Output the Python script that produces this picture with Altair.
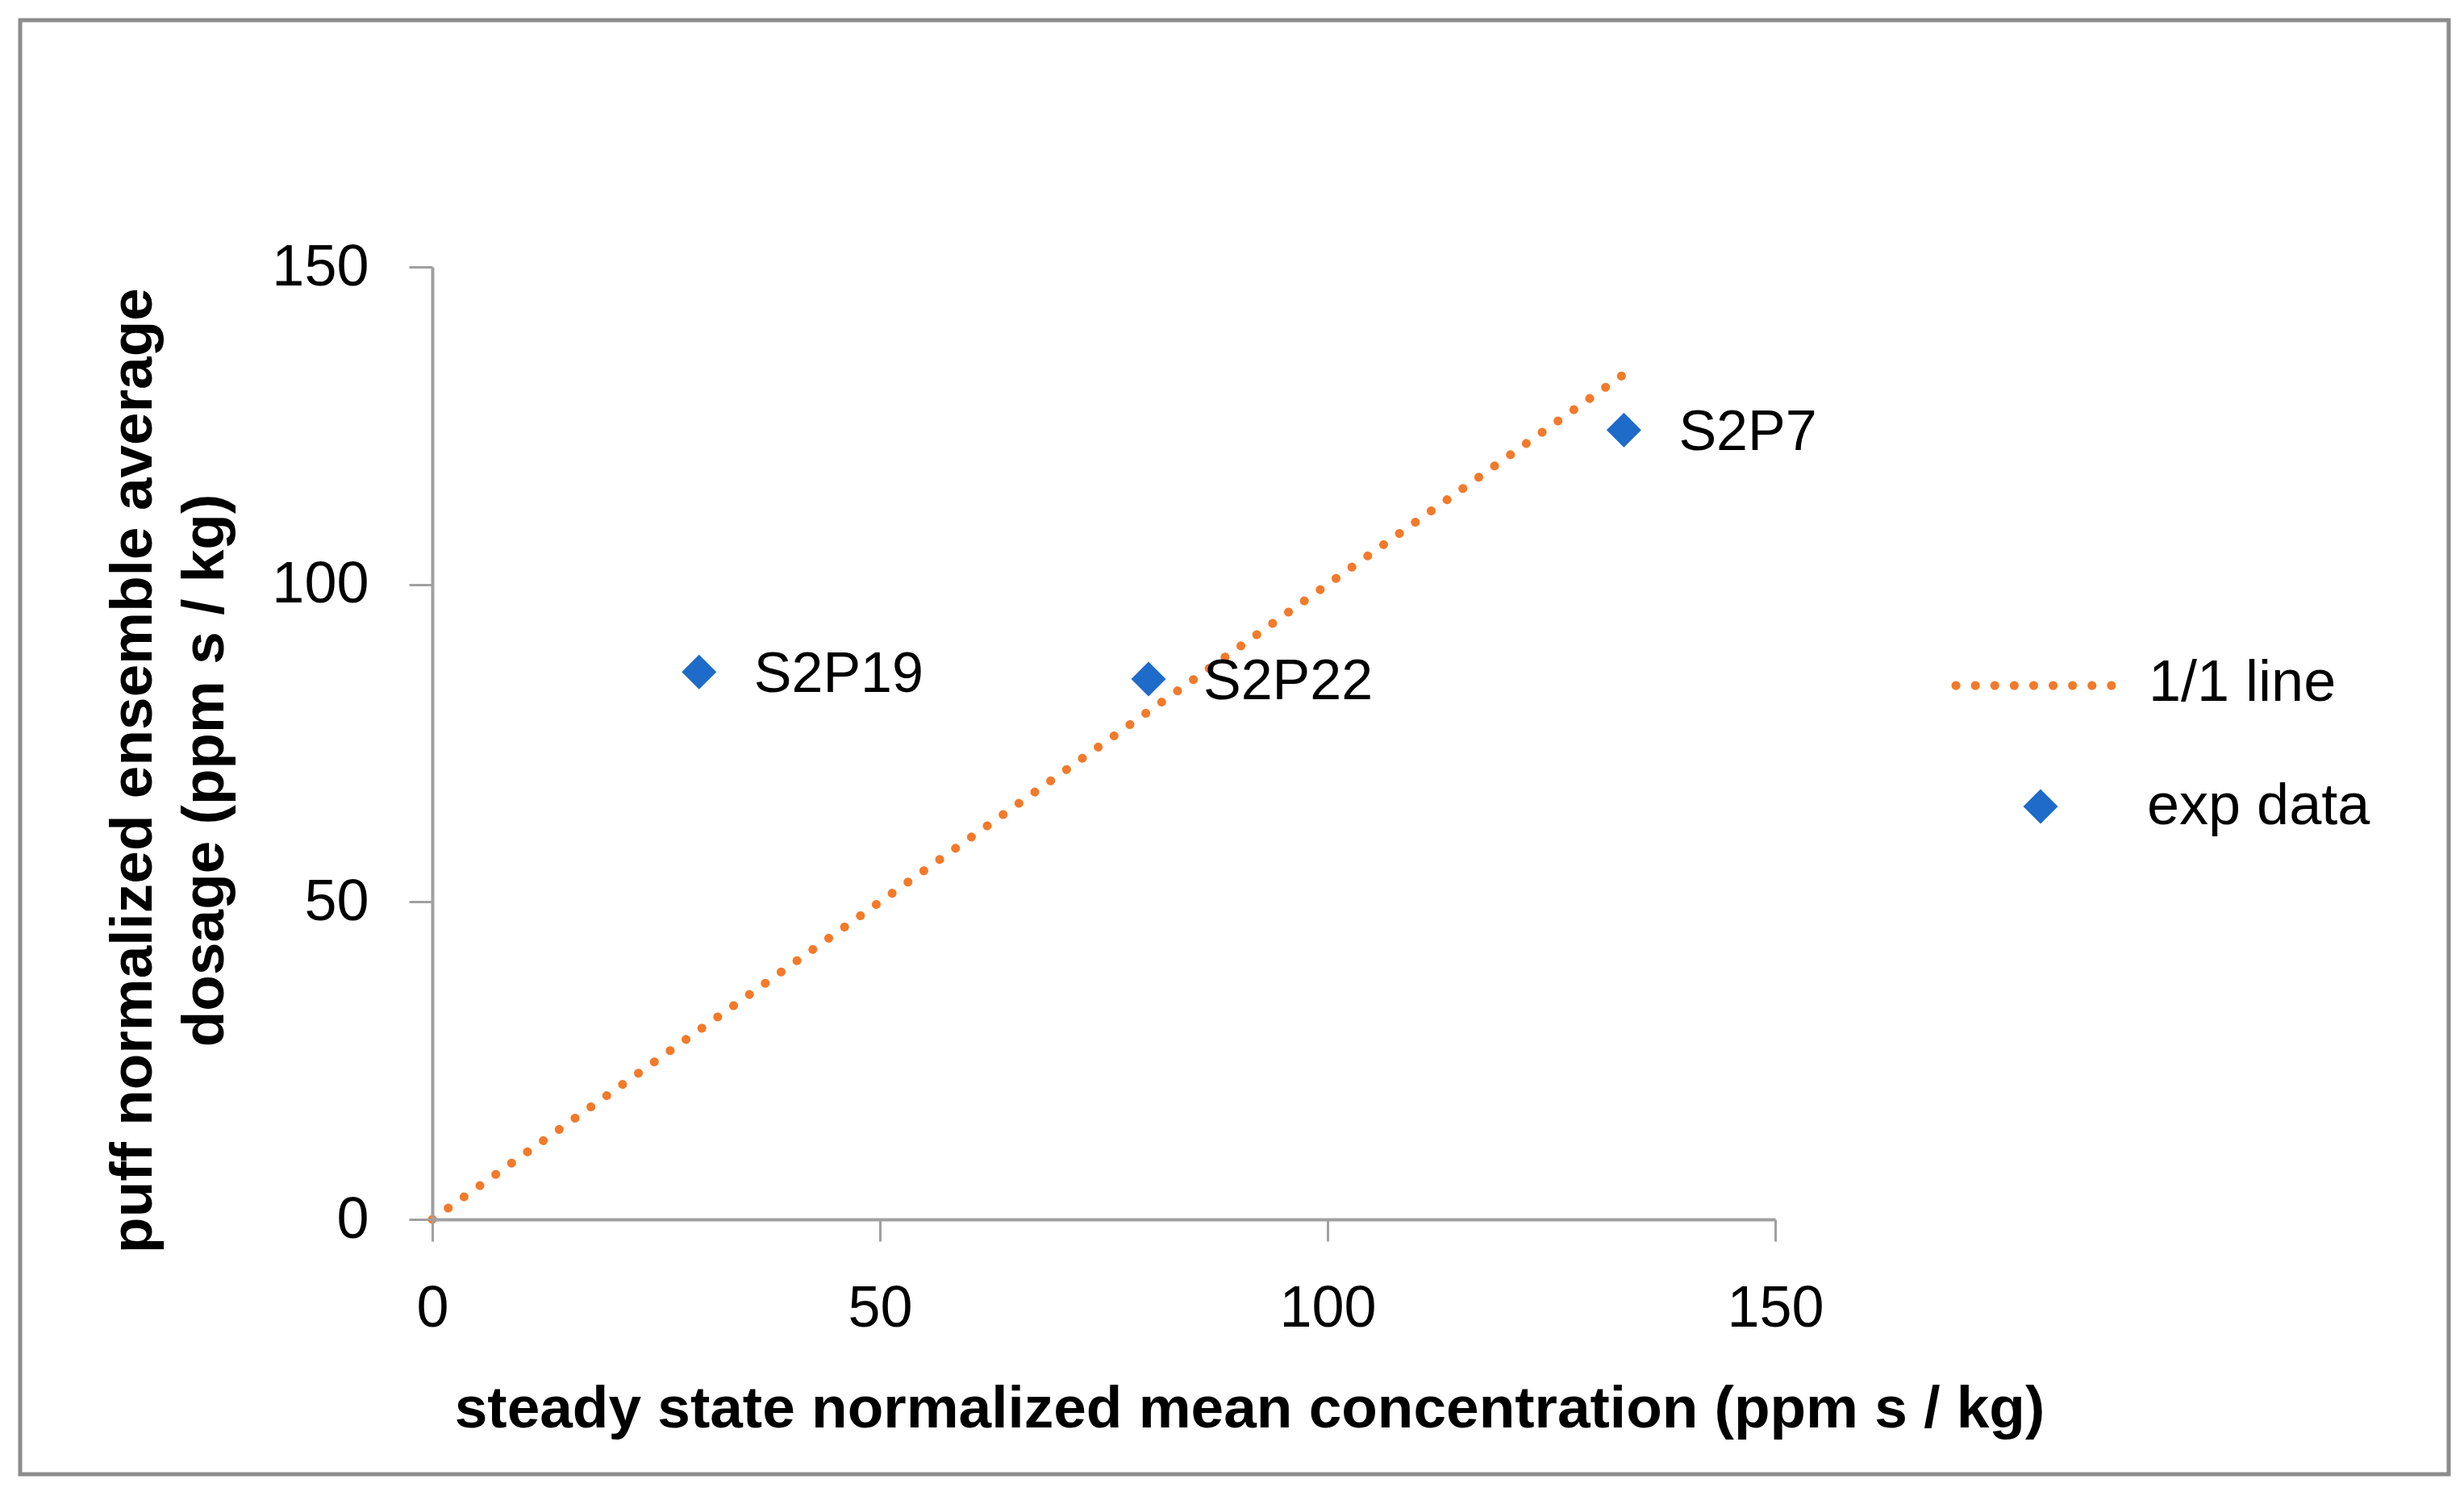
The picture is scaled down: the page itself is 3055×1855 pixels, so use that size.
import altair as alt
import pandas as pd

# ---- data ----
exp_labels = ["S2P19", "S2P22", "S2P7"]
exp_x = [29.8, 80.0, 133.1]
exp_y = [86.2, 85.1, 124.3]

line_x = [0, 133]
line_y = [0, 133]

x_ticks = [0, 50, 100, 150]
y_ticks = [0, 50, 100, 150]

legend_labels = ["1/1 line", "exp data"]

x_title = "steady state normalized mean concentration (ppm s / kg)"
y_title = ["puff normalized ensemble average", "dosage (ppm s / kg)"]

FONT = "Liberation Sans"
ORANGE = "#F27A2A"
BLUE = "#1F6BC9"
AXIS_GRAY = "#A0A0A0"

pts = pd.DataFrame({"x": exp_x, "y": exp_y, "label": exp_labels})
ln = pd.DataFrame({"x": line_x, "y": line_y})
one = pd.DataFrame({"k": [0]})

xscale = alt.Scale(domain=[0, 150], nice=False, zero=False)
yscale = alt.Scale(domain=[0, 150], nice=False, zero=False)

xaxis = alt.Axis(
    values=x_ticks, grid=False, domainColor=AXIS_GRAY, domainWidth=4,
    tickColor=AXIS_GRAY, tickWidth=3, tickSize=27, labelFont=FONT,
    labelFontSize=72, labelColor="#000000", labelPadding=48,
    labelBaseline="top", title=x_title, titleFont=FONT, titleFontSize=73,
    titleFontWeight="bold", titleColor="#000000", titleX=1013, titleY=235,
    titleBaseline="middle", titleAnchor="middle", labelFlush=False, zindex=1,
)
yaxis = alt.Axis(
    values=y_ticks, grid=False, domainColor=AXIS_GRAY, domainWidth=4,
    tickColor=AXIS_GRAY, tickWidth=3, tickSize=29, labelFont=FONT,
    labelFontSize=72, labelColor="#000000", labelPadding=50,
    labelBaseline="middle", title=y_title, titleFont=FONT, titleFontSize=73,
    titleFontWeight="bold", titleColor="#000000", titleAngle=270,
    titleX=-371, titleY=624, titleBaseline="middle", titleAlign="center",
    titleLineHeight=89, labelFlush=False, zindex=1,
)

border = alt.Chart(one).mark_rect(
    filled=False, stroke="#8C8C8C", strokeWidth=5
).encode(
    x=alt.value(-511), x2=alt.value(2500), y=alt.value(-306), y2=alt.value(1497)
)

diag = alt.Chart(ln).mark_line(
    color=ORANGE, strokeWidth=11, strokeDash=[0.1, 24], strokeCap="round"
).encode(
    x=alt.X("x:Q", scale=xscale, axis=xaxis),
    y=alt.Y("y:Q", scale=yscale, axis=yaxis),
)

points = alt.Chart(pts).mark_point(
    shape="diamond", filled=True, size=1850, color=BLUE, opacity=1
).encode(
    x=alt.X("x:Q", scale=xscale),
    y=alt.Y("y:Q", scale=yscale),
)

labels = alt.Chart(pts).mark_text(
    align="left", baseline="middle", dx=68, dy=4, font=FONT, fontSize=70,
    color="#000000"
).encode(
    x=alt.X("x:Q", scale=xscale),
    y=alt.Y("y:Q", scale=yscale),
    text="label:N",
)

# ---- manual legend ----
leg1 = pd.DataFrame({"label": [legend_labels[0]]})
leg2 = pd.DataFrame({"label": [legend_labels[1]]})

leg_line = alt.Chart(leg1).mark_rule(
    color=ORANGE, strokeWidth=11, strokeDash=[0.1, 24], strokeCap="round"
).encode(x=alt.value(1889), x2=alt.value(2090), y=alt.value(519))

leg_text1 = alt.Chart(leg1).mark_text(
    align="left", baseline="middle", dy=-3, font=FONT, fontSize=72, color="#000000"
).encode(x=alt.value(2128), y=alt.value(519), text="label:N")

leg_pt = alt.Chart(leg2).mark_point(
    shape="diamond", filled=True, size=1850, color=BLUE, opacity=1
).encode(x=alt.value(1994), y=alt.value(669))

leg_text2 = alt.Chart(leg2).mark_text(
    align="left", baseline="middle", dy=0, font=FONT, fontSize=72, color="#000000"
).encode(x=alt.value(2126), y=alt.value(669), text="label:N")

chart = alt.layer(
    border, diag, points, labels, leg_line, leg_text1, leg_pt, leg_text2
).properties(
    width=1665, height=1181,
    autosize=alt.AutoSizeParams(type="none"),
    padding={"left": 528, "top": 323, "right": 840, "bottom": 330},
    background="white",
).configure_view(stroke=None)

chart.save("out.html", embed_options={"renderer": "svg", "actions": False})
